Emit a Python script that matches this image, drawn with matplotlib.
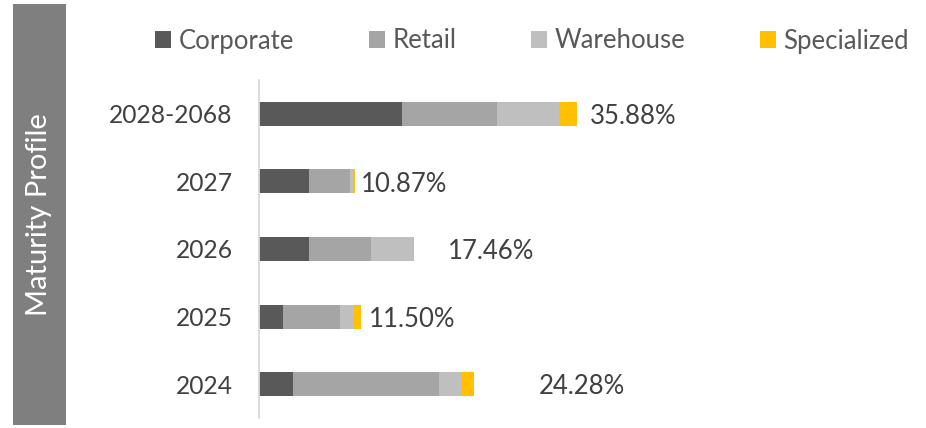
import matplotlib
matplotlib.use("Agg")
import matplotlib.pyplot as plt
from matplotlib.patches import Rectangle
import numpy as np

# ---- data ----
categories = ["2024", "2025", "2026", "2027", "2028-2068"]
corporate = [3.80, 2.75, 5.60, 5.60, 16.08]
retail = [16.54, 6.34, 7.07, 4.62, 10.70]
warehouse = [2.59, 1.61, 4.69, 0.45, 7.07]
specialized = [1.35, 0.80, 0.10, 0.20, 2.03]
totals = [24.28, 11.50, 17.46, 10.87, 35.88]
series_names = ["Corporate", "Retail", "Warehouse", "Specialized"]
colors = ["#595959", "#a5a5a5", "#bfbfbf", "#ffc000"]
title = "Maturity Profile"

FONT = ["Lato", "DejaVu Sans"]
plt.rcParams["font.family"] = FONT

W, H = 926, 428
fig = plt.figure(figsize=(W / 100, H / 100), dpi=100)

# grey side band with vertical title
fig.patches.append(Rectangle((13 / W, 1 - 425 / H), 53 / W, 421 / H,
                             transform=fig.transFigure, facecolor="#7f7f7f",
                             edgecolor="none", zorder=0))
fig.text(39.5 / W, 1 - 215 / H, title, rotation=90, color="white",
         fontsize=21, ha="center", va="center")

xmax = 48.5
left_px, right_px = 259, 259 + xmax * 8.874
top_px, bot_px = 80, 418
ax = fig.add_axes([left_px / W, 1 - bot_px / H, (right_px - left_px) / W,
                   (bot_px - top_px) / H])

y = np.arange(len(categories))
left = np.zeros(len(categories))
handles = []
for name, vals, c in zip(series_names, [corporate, retail, warehouse, specialized], colors):
    b = ax.barh(y, vals, left=left, height=0.356, color=c, label=name, zorder=2)
    handles.append(b)
    left = left + np.array(vals)

# data labels centred on an invisible "total" segment (clipped at axis max)
tot = np.array(totals)
centers = (tot + np.minimum(2 * tot, xmax)) / 2
for yi, cx, t in zip(y, centers, totals):
    ax.text(cx, yi - 0.04, f"{t:.2f}%", ha="center", va="center", fontsize=18.5,
            color="#404040")

ax.set_xlim(0, xmax)
ax.set_ylim(-0.5, len(categories) - 0.5)
ax.set_yticks(y)
ax.set_yticklabels(categories, fontsize=17.7, color="#404040")
ax.tick_params(axis="y", length=0, pad=19)
ax.set_xticks([])
for s in ["top", "right", "bottom"]:
    ax.spines[s].set_visible(False)
ax.spines["left"].set_color("#d9d9d9")
ax.spines["left"].set_linewidth(1.3)

leg = fig.legend(handles=handles, labels=series_names, loc="center",
                 bbox_to_anchor=(532 / W, 1 - 41 / H), ncol=4, frameon=False,
                 fontsize=18.5, handlelength=0.62, handleheight=0.62,
                 handletextpad=0.3, columnspacing=2.9, labelcolor="#595959")

fig.savefig("out.png", dpi=100)
